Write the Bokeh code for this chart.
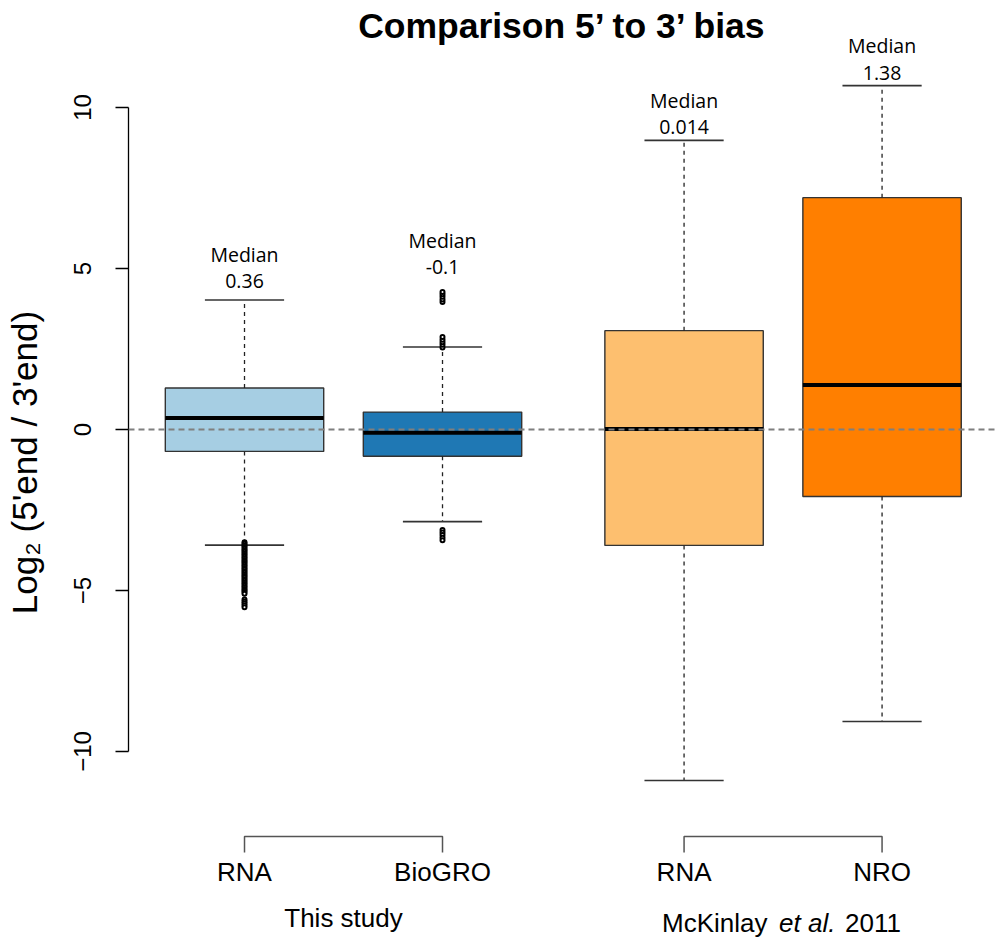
import math
from bokeh.plotting import figure
from bokeh.layouts import row
from bokeh.models import Range1d, LinearAxis, FixedTicker, Span, ColumnDataSource
from bokeh.core.properties import value
from bokeh.embed import file_html
from bokeh.resources import INLINE

# ---------------- data ----------------
title = "Comparison 5’ to 3’ bias"
y_title = "Log₂ (5'end / 3'end)"
samples = ["RNA", "BioGRO", "RNA", "NRO"]
group_names = ["This study", "McKinlay", "et al.", "2011"]
colors = ["#A6CEE3", "#1F78B4", "#FDBF6F", "#FF7F00"]
q1 = [-0.68, -0.83, -3.60, -2.08]
q3 = [1.29, 0.54, 3.07, 7.20]
medians = [0.36, -0.10, 0.014, 1.38]
whisker_lo = [-3.59, -2.86, -10.90, -9.07]
whisker_hi = [4.02, 2.56, 8.98, 10.68]
median_text = ["0.36", "-0.1", "0.014", "1.38"]
outliers_rna = [-3.50, -3.55, -3.60, -3.65, -3.70, -3.75, -3.80, -3.85, -3.90, -3.95,
                -4.00, -4.05, -4.10, -4.15, -4.20, -4.25, -4.30, -4.35, -4.40, -4.45,
                -4.50, -4.55, -4.60, -4.65, -4.70, -4.75, -4.80, -4.85, -4.90, -4.95,
                -5.00, -5.05, -5.10, -5.28, -5.34, -5.40, -5.46, -5.52]
outliers_biogro = [3.96, 4.04, 4.12, 4.20, 4.27, 2.55, 2.63, 2.71, 2.79, 2.87,
                   -3.12, -3.20, -3.28, -3.36, -3.44]
outliers_mck_rna = []
outliers_nro = []
outliers = [outliers_rna, outliers_biogro, outliers_mck_rna, outliers_nro]
y_ticks = [-10, -5, 0, 5, 10]

# ---------------- layout ----------------
positions = [1.0, 2.0, 3.22, 4.22]
half_w = 0.4
cap_w = 0.2
value_off = [-19, -25, -13, -13]   # px above the top of each box's data
word_gap = -27
H = 942

# left strip holding the y axis title
lab = figure(width=60, height=H, x_range=Range1d(0, 60), y_range=Range1d(0, H),
             output_backend="svg", toolbar_location=None,
             x_axis_location=None, y_axis_location=None,
             min_border_left=0, min_border_right=0, min_border_top=0, min_border_bottom=0)
lab.grid.visible = False
lab.outline_line_color = None
lab.text(x=[24], y=[H - 462], text=[y_title], angle=math.pi / 2, text_align="center",
         text_baseline="middle", text_font=value("Liberation Sans"),
         text_font_size="35px", text_color="black")

p = figure(width=937, height=H,
           x_range=Range1d(0.4141, 4.8030), y_range=Range1d(-15.932, 13.323),
           output_backend="svg", toolbar_location=None,
           x_axis_location=None, y_axis_location=None,
           min_border_left=68, min_border_right=0, min_border_top=0, min_border_bottom=0)
p.grid.visible = False
p.outline_line_color = None
p.background_fill_color = "white"
p.border_fill_color = "white"

yaxis = LinearAxis(ticker=FixedTicker(ticks=y_ticks), bounds=(-10, 10))
yaxis.major_label_overrides = {-10: "−10", -5: "−5", 0: "0", 5: "5", 10: "10"}
yaxis.major_label_orientation = "vertical"
yaxis.major_label_text_font = "Liberation Sans"
yaxis.major_label_text_font_size = "24px"
yaxis.major_label_text_color = "black"
yaxis.major_label_standoff = 24
yaxis.major_tick_out = 13
yaxis.major_tick_in = 0
yaxis.minor_tick_out = 0
yaxis.minor_tick_in = 0
yaxis.axis_line_color = "black"
yaxis.axis_line_width = 1.3
yaxis.major_tick_line_width = 1.3
yaxis.major_tick_line_color = "black"
p.add_layout(yaxis, "left")

# boxes
left = [x - half_w for x in positions]
right = [x + half_w for x in positions]
p.quad(left=left, right=right, bottom=q1, top=q3, fill_color=colors,
       line_color="#333333", line_width=1.4)
# whiskers
p.segment(x0=positions, y0=q3, x1=positions, y1=whisker_hi, line_color="#222222",
          line_width=1.3, line_dash="4 4")
p.segment(x0=positions, y0=q1, x1=positions, y1=whisker_lo, line_color="#222222",
          line_width=1.3, line_dash="4 4")
# caps
p.segment(x0=[x - cap_w for x in positions], y0=whisker_hi,
          x1=[x + cap_w for x in positions], y1=whisker_hi, line_color="#333333", line_width=1.6)
p.segment(x0=[x - cap_w for x in positions], y0=whisker_lo,
          x1=[x + cap_w for x in positions], y1=whisker_lo, line_color="#333333", line_width=1.6)
# medians
p.segment(x0=left, y0=medians, x1=right, y1=medians, line_color="black", line_width=4)

# outliers
ox, oy = [], []
for pos, vals in zip(positions, outliers):
    ox += [pos] * len(vals)
    oy += vals
p.scatter(x=ox, y=oy, marker="circle", size=4, fill_color="white",
          line_color="black", line_width=2)

# zero reference line
p.add_layout(Span(location=0, dimension="width", line_color="#7F7F7F",
                  line_dash="6 4", line_width=1.8))

# median annotations
tops = [max([whisker_hi[i]] + outliers[i]) for i in range(4)]
src = ColumnDataSource(dict(x=positions, y=tops, t=median_text,
                            off=value_off, off2=[v + word_gap for v in value_off],
                            w=["Median"] * 4))
p.text(x="x", y="y", text="t", y_offset="off", source=src, text_align="center",
       text_baseline="middle", text_font=value("Open Sans"), text_font_size="19.5px",
       text_color="black")
p.text(x="x", y="y", text="w", y_offset="off2", source=src, text_align="center",
       text_baseline="middle", text_font=value("Open Sans"), text_font_size="19.5px",
       text_color="black")

# title
mid_all = (positions[0] + positions[-1]) / 2
p.text(x=[mid_all], y=[12.53], text=[title], text_align="center", text_baseline="middle",
       text_font=value("Liberation Sans"), text_font_style="bold", text_font_size="35.5px",
       text_color="black")

# group brackets
BR_TOP, BR_BOT = -12.64, -13.14
pairs = [(positions[0], positions[1]), (positions[2], positions[3])]
p.multi_line(xs=[[a, a, b, b] for a, b in pairs],
             ys=[[BR_BOT, BR_TOP, BR_TOP, BR_BOT]] * 2, line_color="#555555", line_width=1.5)

# sample labels
p.text(x=positions, y=[-13.73] * 4, text=samples, text_align="center", text_baseline="middle",
       text_font=value("Liberation Sans"), text_font_size="26px", text_color="black")

# group labels
g1 = (positions[0] + positions[1]) / 2
g2 = (positions[2] + positions[3]) / 2
p.text(x=[g1], y=[-15.17], text=[group_names[0]], text_align="center", text_baseline="middle",
       text_font=value("Liberation Sans"), text_font_size="26px", text_color="black")
p.text(x=[g2], y=[-15.33], text=[group_names[1]], x_offset=-121, text_align="left",
       text_baseline="middle", text_font=value("Liberation Sans"), text_font_size="26px",
       text_color="black")
p.text(x=[g2], y=[-15.33], text=[group_names[2]], x_offset=-4, text_align="left",
       text_baseline="middle", text_font=value("Liberation Sans"), text_font_style="italic",
       text_font_size="26px", text_color="black")
p.text(x=[g2], y=[-15.33], text=[group_names[3]], x_offset=62, text_align="left",
       text_baseline="middle", text_font=value("Liberation Sans"), text_font_size="26px",
       text_color="black")

layout = row(lab, p, spacing=0)
open("out.html", "w").write(file_html(layout, INLINE))
